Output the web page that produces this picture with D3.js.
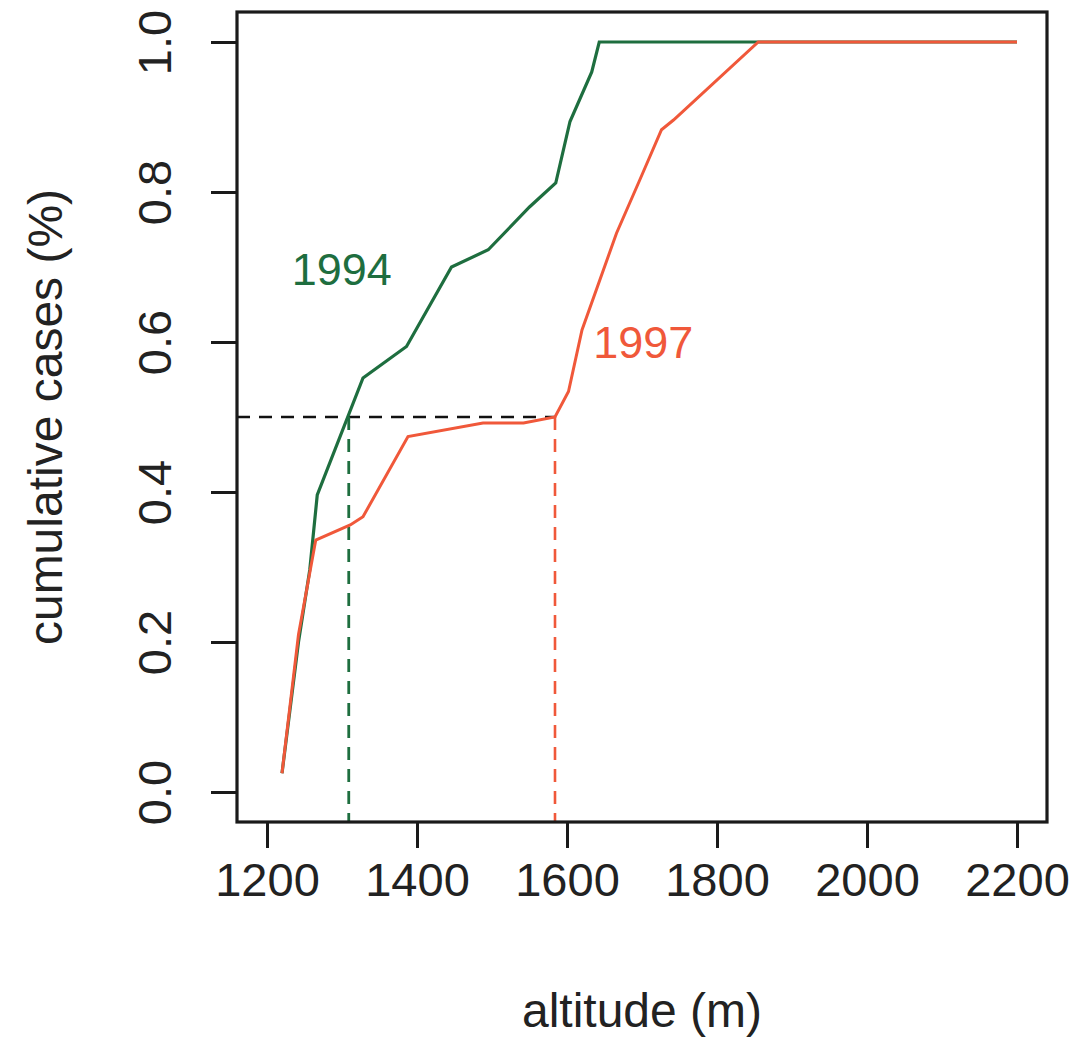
<!DOCTYPE html>
<html>
<head>
<meta charset="utf-8">
<script src="https://cdn.jsdelivr.net/npm/d3@7"></script>
<style>
  body { margin: 0; background: #fff; }
  text { font-family: "Liberation Sans", Arial, sans-serif; }
</style>
</head>
<body>
<script>
// 1994 curve
var altitude94 = [1220, 1242, 1257, 1267, 1328, 1386, 1446, 1495, 1550, 1585, 1604, 1633, 1643, 1855, 2200];
var cases94 = [0.025, 0.2, 0.296, 0.396, 0.552, 0.594, 0.700, 0.723, 0.78, 0.812, 0.894, 0.96, 1.0, 1.0, 1.0];

// 1997 curve
var altitude97 = [1220, 1242, 1265, 1311, 1328, 1388, 1488, 1542, 1584, 1602, 1620, 1666, 1697, 1726, 1742, 1855, 2200];
var cases97 = [0.025, 0.21, 0.336, 0.356, 0.367, 0.474, 0.492, 0.492, 0.5, 0.534, 0.616, 0.745, 0.816, 0.883, 0.896, 1.0, 1.0];

// medians
var median94 = 1309, median97 = 1584, half = 0.5;

var xTicks = [1200, 1400, 1600, 1800, 2000, 2200];
var yTicks = [0.0, 0.2, 0.4, 0.6, 0.8, 1.0];

var green = "#1e6e3f", red = "#f0583a";

var width = 1072, height = 1051;
var box = { left: 237, right: 1047, top: 12, bottom: 822 };

var svg = d3.select("body").append("svg")
    .attr("width", width)
    .attr("height", height);

var x = d3.scaleLinear().domain([1160, 2240]).range([box.left, box.right]);
var y = d3.scaleLinear().domain([-0.04, 1.04]).range([box.bottom, box.top]);

function pts(xs, ys) {
    return xs.map(function (d, i) { return [d, ys[i]]; });
}

var line = d3.line()
    .x(function (d) { return x(d[0]); })
    .y(function (d) { return y(d[1]); });

// dashed guide lines
svg.append("line")
    .attr("x1", x(1160)).attr("x2", x(median97))
    .attr("y1", y(half)).attr("y2", y(half))
    .attr("stroke", "#111").attr("stroke-width", 2.6)
    .attr("stroke-dasharray", "13,9");

svg.append("line")
    .attr("x1", x(median94)).attr("x2", x(median94))
    .attr("y1", y(half)).attr("y2", y(-0.04))
    .attr("stroke", green).attr("stroke-width", 2.8)
    .attr("stroke-dasharray", "13,9");

svg.append("line")
    .attr("x1", x(median97)).attr("x2", x(median97))
    .attr("y1", y(half)).attr("y2", y(-0.04))
    .attr("stroke", red).attr("stroke-width", 2.6)
    .attr("stroke-dasharray", "13,9");

// curves
svg.append("path")
    .datum(pts(altitude94, cases94))
    .attr("d", line)
    .attr("fill", "none")
    .attr("stroke", green)
    .attr("stroke-width", 3.2);

svg.append("path")
    .datum(pts(altitude97, cases97))
    .attr("d", line)
    .attr("fill", "none")
    .attr("stroke", red)
    .attr("stroke-width", 3);

// frame
svg.append("rect")
    .attr("x", box.left).attr("y", box.top)
    .attr("width", box.right - box.left).attr("height", box.bottom - box.top)
    .attr("fill", "none").attr("stroke", "#1a1a1a").attr("stroke-width", 3.2);

// axes
var xAxis = svg.append("g")
    .attr("transform", "translate(0," + box.bottom + ")")
    .call(d3.axisBottom(x).tickValues(xTicks).tickSize(26).tickPadding(13)
        .tickFormat(d3.format("d")));

var yAxis = svg.append("g")
    .attr("transform", "translate(" + box.left + ",0)")
    .call(d3.axisLeft(y).tickValues(yTicks).tickSize(26).tickPadding(0)
        .tickFormat(d3.format(".1f")));

[xAxis, yAxis].forEach(function (g) {
    g.select(".domain").remove();
    g.selectAll(".tick line").attr("stroke", "#1a1a1a").attr("stroke-width", 3);
    g.selectAll(".tick text")
        .attr("fill", "#222")
        .style("font-size", "47px")
        .style("font-family", "'Liberation Sans', Arial, sans-serif");
});

xAxis.selectAll(".tick text").attr("dy", "0.75em");

yAxis.selectAll(".tick text")
    .attr("x", null).attr("dy", null)
    .attr("text-anchor", "middle")
    .attr("transform", "translate(-83,0) rotate(-90)")
    .attr("dy", "0.36em");

// titles
svg.append("text")
    .attr("x", (box.left + box.right) / 2)
    .attr("y", 1027)
    .attr("text-anchor", "middle")
    .attr("fill", "#222")
    .style("font-size", "48px")
    .text("altitude (m)");

svg.append("text")
    .attr("transform", "translate(62," + (box.top + box.bottom) / 2 + ") rotate(-90)")
    .attr("text-anchor", "middle")
    .attr("fill", "#222")
    .style("font-size", "48px")
    .text("cumulative cases (%)");

// series labels
svg.append("text")
    .attr("x", x(1233)).attr("y", y(0.676))
    .attr("fill", green)
    .style("font-size", "45px")
    .text("1994");

svg.append("text")
    .attr("x", x(1635)).attr("y", y(0.579))
    .attr("fill", red)
    .style("font-size", "45px")
    .text("1997");
</script>
</body>
</html>
